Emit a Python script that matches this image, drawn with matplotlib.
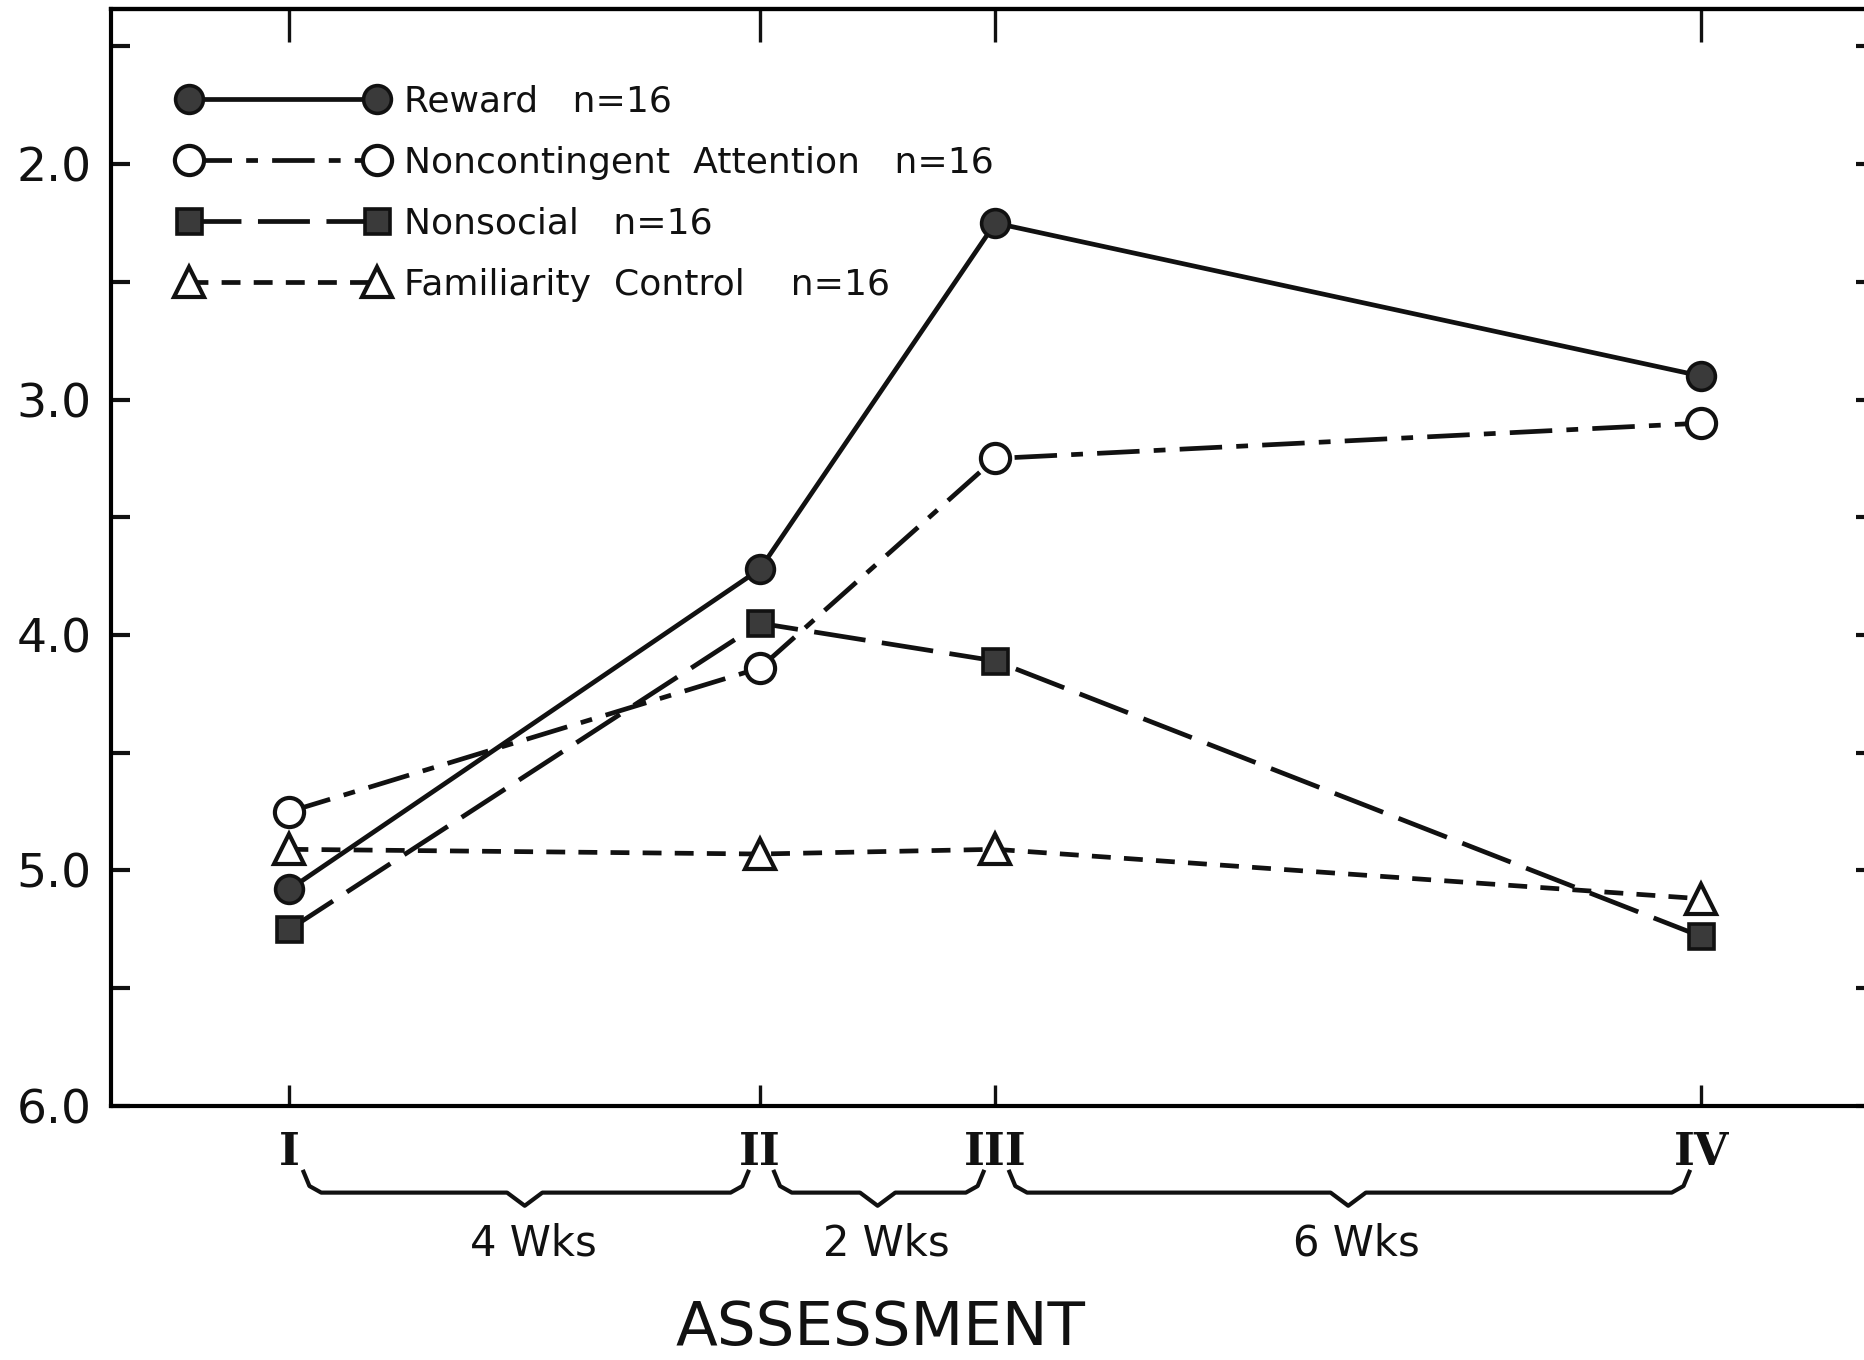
import matplotlib
matplotlib.use("Agg")
import matplotlib.pyplot as plt
import matplotlib.transforms as mtransforms
from matplotlib.ticker import MultipleLocator

# weeks since first assessment
weeks = [0, 4, 6, 12]
assess_labels = ["I", "II", "III", "IV"]

reward = [5.08, 3.72, 2.25, 2.90]
noncontingent = [4.75, 4.14, 3.25, 3.10]
nonsocial = [5.25, 3.95, 4.11, 5.28]
familiarity = [4.91, 4.93, 4.91, 5.12]

interval_labels = ["4 Wks", "2 Wks", "6 Wks"]

ink = "#111111"

fig = plt.figure(figsize=(18.65, 13.6), dpi=100)
ax = fig.add_axes([0.0595, 0.1868, 0.946, 0.8066])

lw = 3.4
ax.plot(weeks, reward, color=ink, lw=lw, ls="-", marker="o", ms=20,
        mfc="#3a3a3a", mec=ink, mew=2.6, label="Reward   n=16", zorder=4)
ax.plot(weeks, noncontingent, color=ink, lw=lw, ls=(0, (9, 3, 2.5, 3)), marker="o", ms=21,
        mfc="white", mec=ink, mew=3.0, label="Noncontingent  Attention   n=16", zorder=4)
ax.plot(weeks, nonsocial, color=ink, lw=lw, ls=(0, (11, 3.5)), marker="s", ms=18,
        mfc="#3a3a3a", mec=ink, mew=2.6, label="Nonsocial   n=16", zorder=4)
ax.plot(weeks, familiarity, color=ink, lw=lw, ls=(0, (4, 2.8)), marker="^", ms=21,
        mfc="white", mec=ink, mew=3.0, label="Familiarity  Control    n=16", zorder=4)

ax.set_xlim(-1.517, 13.48)
ax.set_ylim(6.0, 1.341)

for side in ["left", "bottom", "top"]:
    ax.spines[side].set_linewidth(3.0)
ax.spines["right"].set_visible(False)

ax.yaxis.set_minor_locator(MultipleLocator(0.5))
ax.set_yticks([2.0, 3.0, 4.0, 5.0, 6.0])
ax.set_yticklabels(["2.0", "3.0", "4.0", "5.0", "6.0"])
ax.tick_params(axis="y", which="both", direction="in", length=14, width=3.0,
               left=True, right=True, labelsize=34, pad=14, colors=ink)

ax.set_xticks(weeks)
ax.set_xticklabels(assess_labels, family="DejaVu Serif", fontsize=32, fontweight="bold")
ax.tick_params(axis="x", direction="in", length=15, width=2.4, pad=18, colors=ink)

top = ax.secondary_xaxis("top")
top.set_xticks(weeks)
top.set_xticklabels([])
top.tick_params(direction="in", length=24, width=2.4, colors=ink)
top.spines["top"].set_linewidth(3.0)

# braces under the axis, between assessments
trans = mtransforms.blended_transform_factory(ax.transData, ax.transAxes)
y_line, y_curl, y_dip = -0.079, -0.060, -0.091
for i in range(len(weeks) - 1):
    a, b = weeks[i] + 0.12, weeks[i + 1] - 0.1
    m = (weeks[i] + weeks[i + 1]) / 2
    xs = [a, a + 0.05, a + 0.15, m - 0.15, m, m + 0.15, b - 0.15, b - 0.05, b]
    ys = [y_curl, y_line + 0.006, y_line, y_line, y_dip, y_line, y_line, y_line + 0.006, y_curl]
    ax.plot(xs, ys, color=ink, lw=3.0, transform=trans, clip_on=False)
    ax.text(m + 0.07, -0.125, interval_labels[i], transform=trans, ha="center", va="center",
            fontsize=30, color=ink)

fig.text(0.472, 0.023, "ASSESSMENT", ha="center", va="center", fontsize=44, color=ink)

leg = ax.legend(loc="upper left", bbox_to_anchor=(0.086, 0.951), bbox_transform=fig.transFigure,
                frameon=False, fontsize=26, numpoints=2, handlelength=5.8, handletextpad=0.45,
                labelspacing=0.75, borderpad=0)
for t in leg.get_texts():
    t.set_color(ink)

fig.savefig("out.png", dpi=100, facecolor="white")
